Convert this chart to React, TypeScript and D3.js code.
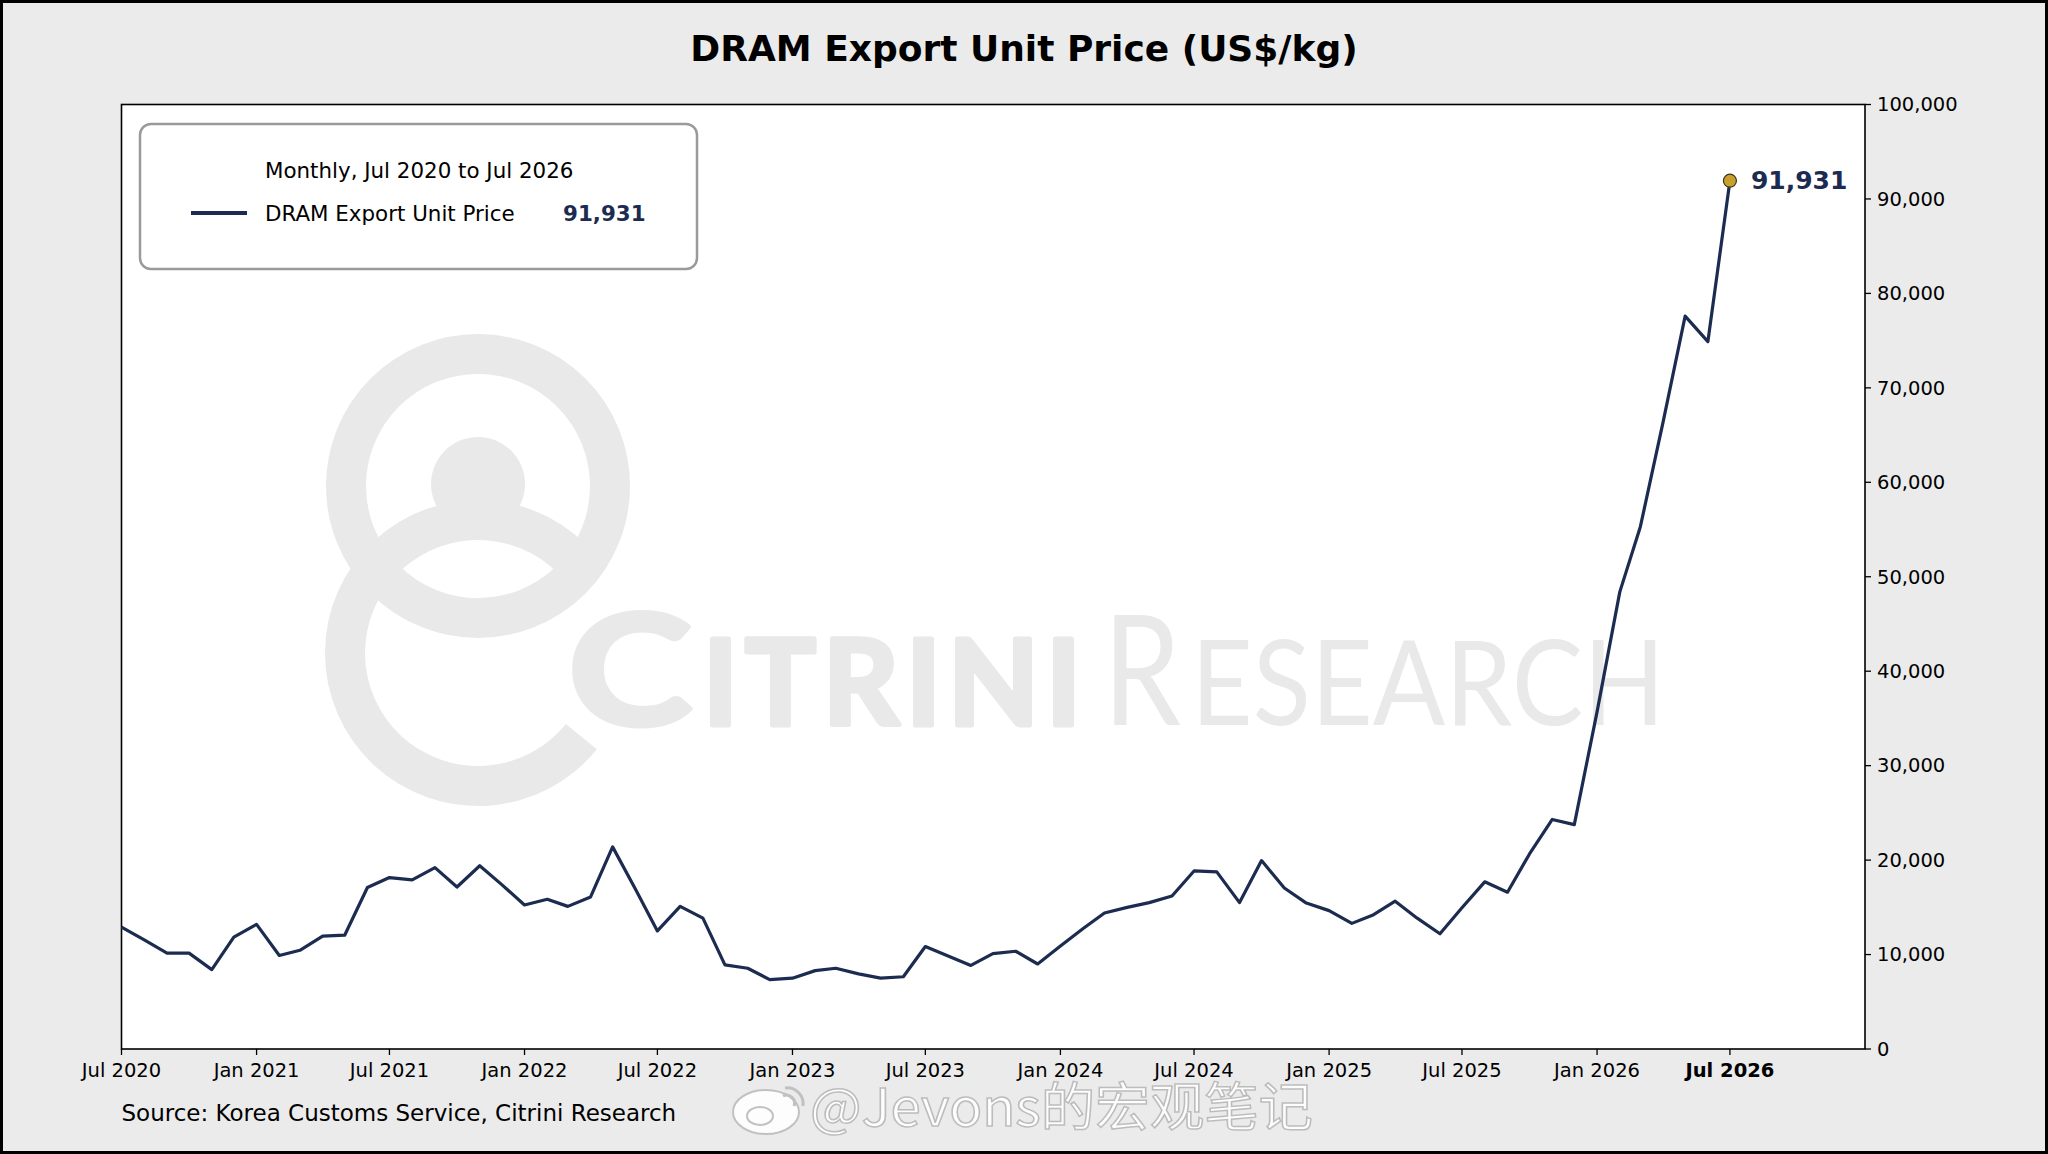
import React from "react";
import * as d3 from "d3";

// monthly DRAM export unit price, US$/kg, starting Jul 2020
const startMonth = new Date(2020, 6, 1);
const price2020 = [12900, 11550, 10150, 10150, 8400, 11850];
const price2021 = [13200, 9900, 10450, 11950, 12050, 17100, 18150, 17900, 19200, 17150, 19400, 17400];
const price2022 = [15250, 15850, 15100, 16100, 21400, 16950, 12500, 15100, 13850, 8900, 8550, 7350];
const price2023 = [7500, 8300, 8550, 7950, 7500, 7650, 10850, 9850, 8850, 10100, 10350, 9000];
const price2024 = [10900, 12750, 14400, 15000, 15500, 16200, 18850, 18750, 15500, 19950, 17050, 15450];
const price2025 = [14650, 13300, 14150, 15650, 13850, 12200, 14950, 17700, 16600, 20650, 24300, 23750];
const price2026 = [35700, 48400, 55300, 66400, 77600, 74900, 91931];

const yTicks = [0, 10000, 20000, 30000, 40000, 50000, 60000, 70000, 80000, 90000, 100000];

const W = 2048;
const H = 1154;
const margin = { left: 121.5, right: 183, top: 104.5, bottom: 105 };
const navy = "#1c2b50";
const gold = "#c9a02e";
const wm = "#e9e9e9";
const font = "'DejaVu Sans', sans-serif";

export default function App() {
  const values = [...price2020, ...price2021, ...price2022, ...price2023, ...price2024, ...price2025, ...price2026];
  const data = values.map((v, i) => ({ date: d3.timeMonth.offset(startMonth, i), value: v }));
  const last = data[data.length - 1];

  const x = d3
    .scaleTime()
    .domain([startMonth, new Date(2027, 0, 1)])
    .range([margin.left, W - margin.right]);
  const y = d3
    .scaleLinear()
    .domain([0, 100000])
    .range([H - margin.bottom, margin.top]);

  const line = d3
    .line<{ date: Date; value: number }>()
    .x((d) => x(d.date))
    .y((d) => y(d.value));

  const xTicks = d3.timeMonth.every(6)!.range(startMonth, d3.timeMonth.offset(last.date, 1));
  const fmtMonth = d3.timeFormat("%b %Y");
  const fmtNum = d3.format(",");

  const plotL = margin.left;
  const plotR = W - margin.right;
  const plotT = margin.top;
  const plotB = H - margin.bottom;

  // logo arcs (watermark)
  const lowerArc = d3.arc()({
    innerRadius: 113,
    outerRadius: 153,
    startAngle: (129 * Math.PI) / 180,
    endAngle: (411 * Math.PI) / 180,
  });

  return (
    <svg
      width={W}
      height={H}
      style={{ position: "absolute", left: 0, top: 0, display: "block" }}
      fontFamily={font}
    >
      <rect x={1.5} y={1.5} width={W - 3} height={H - 3} fill="#ebebeb" stroke="#000" strokeWidth={3} />

      <text x={W / 2} y={61} textAnchor="middle" fontSize={36} fontWeight="bold" fill="#000">
        DRAM Export Unit Price (US$/kg)
      </text>

      <rect x={plotL} y={plotT} width={plotR - plotL} height={plotB - plotT} fill="#fff" />

      {/* Citrini watermark */}
      <g fill={wm}>
        <circle cx={478} cy={486} r={132} fill="none" stroke={wm} strokeWidth={40} />
        <circle cx={478} cy={484} r={47} />
        <path d={lowerArc ?? ""} transform="translate(478,653)" />
        <g stroke={wm} strokeWidth={5} strokeLinejoin="round">
          <text x={568} y={725} fontFamily="Lato, sans-serif" fontWeight="bold" fontSize={154} textLength={124} lengthAdjust="spacingAndGlyphs">
            C
          </text>
          <text x={703} y={725} fontFamily="Lato, sans-serif" fontWeight="bold" fontSize={118} textLength={378} lengthAdjust="spacing">
            ITRINI
          </text>
        </g>
        <text x={1103} y={725} fontFamily="Lato, sans-serif" fontSize={154} textLength={78} lengthAdjust="spacingAndGlyphs">
          R
        </text>
        <text x={1191} y={725} fontFamily="Lato, sans-serif" fontSize={118} textLength={474} lengthAdjust="spacingAndGlyphs">
          ESEARCH
        </text>
      </g>

      {/* frame */}
      <rect x={plotL} y={plotT} width={plotR - plotL} height={plotB - plotT} fill="none" stroke="#000" strokeWidth={1.6} />

      {/* x axis */}
      {xTicks.map((t, i) => {
        const isLast = i === xTicks.length - 1;
        return (
          <g key={i} transform={`translate(${x(t)},${plotB})`}>
            <line y2={6} stroke="#000" strokeWidth={1.3} />
            <text y={28} textAnchor="middle" fontSize={19.5} fontWeight={isLast ? "bold" : "normal"} fill="#000">
              {fmtMonth(t)}
            </text>
          </g>
        );
      })}

      {/* y axis on the right */}
      {yTicks.map((t) => (
        <g key={t} transform={`translate(${plotR},${y(t)})`}>
          <line x2={6} stroke="#000" strokeWidth={1.3} />
          <text x={12} dy="0.35em" fontSize={19.5} fill="#000">
            {fmtNum(t)}
          </text>
        </g>
      ))}

      {/* series */}
      <path d={line(data) ?? ""} fill="none" stroke={navy} strokeWidth={3.2} strokeLinejoin="round" />
      <circle cx={x(last.date)} cy={y(last.value)} r={6.5} fill={gold} stroke="#3a3320" strokeWidth={1.2} />
      <text x={x(last.date) + 21} y={y(last.value) + 8} fontSize={25} fontWeight="bold" fill={navy}>
        {fmtNum(last.value)}
      </text>

      {/* legend */}
      <rect x={140} y={124} width={557} height={145} rx={11} fill="#fff" stroke="#9a9a9a" strokeWidth={2.5} />
      <text x={265} y={178} fontSize={21.4} fill="#000">
        Monthly, Jul 2020 to Jul 2026
      </text>
      <line x1={191} x2={247} y1={213} y2={213} stroke={navy} strokeWidth={4} />
      <text x={265} y={221} fontSize={21.4} fill="#000">
        DRAM Export Unit Price
      </text>
      <text x={563} y={221} fontSize={21.4} fontWeight="bold" fill={navy}>
        {fmtNum(last.value)}
      </text>

      <text x={121.5} y={1121} fontSize={23} fill="#000">
        Source: Korea Customs Service, Citrini Research
      </text>

      {/* repost watermark */}
      <g opacity={0.9}>
        <ellipse cx={766} cy={1112} rx={33} ry={22} fill="#fff" stroke="#bdbdbd" strokeWidth={2} />
        <ellipse cx={760} cy={1116} rx={13} ry={9} fill="none" stroke="#bdbdbd" strokeWidth={2} />
        <path d="M785,1088 a16,16 0 0 1 18,18 M783,1096 a8,8 0 0 1 11,10" fill="none" stroke="#bdbdbd" strokeWidth={3} />
        <text
          x={810}
          y={1126}
          fontFamily="'Noto Sans CJK SC', 'Noto Sans', sans-serif"
          fontSize={52}
          textLength={503}
          lengthAdjust="spacingAndGlyphs"
          fill="#fff"
          stroke="#b8b8b8"
          strokeWidth={1.5}
        >
          @Jevons的宏观笔记
        </text>
      </g>
    </svg>
  );
}
